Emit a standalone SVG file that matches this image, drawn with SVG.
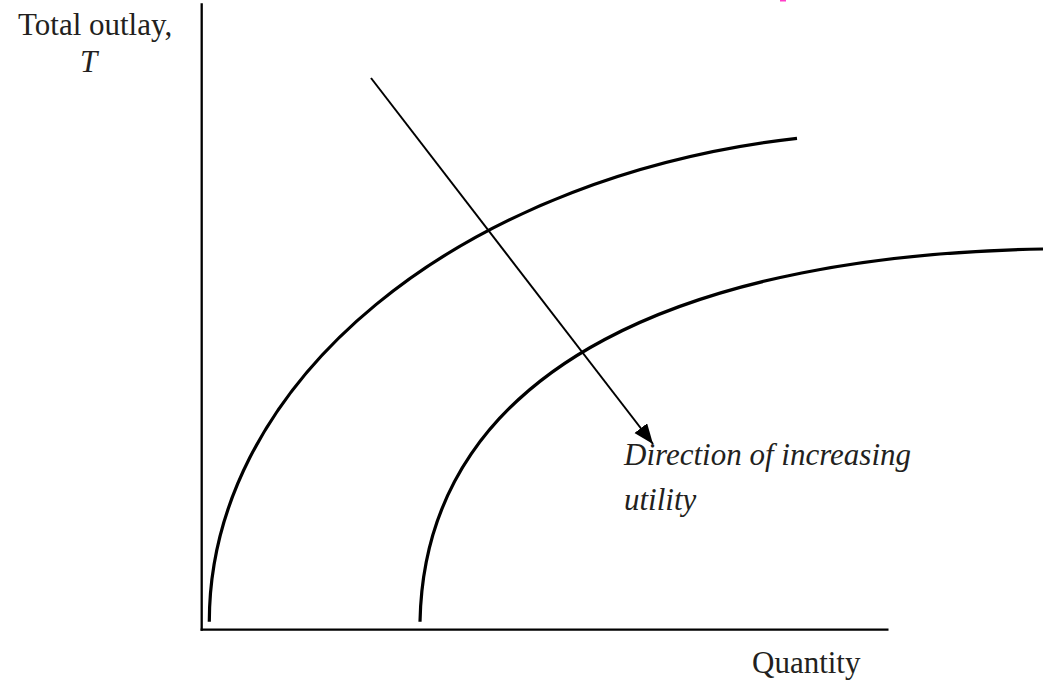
<svg xmlns="http://www.w3.org/2000/svg" width="1047" height="686" viewBox="0 0 1047 686">
  <style>
    .axis { stroke: #000; stroke-width: 2.3; fill: none; }
    .curve { stroke: #000; stroke-width: 3.2; fill: none; }
    .arrow { stroke: #000; stroke-width: 2; fill: none; }
    .lbl { font-family: "Liberation Serif", "Times New Roman", serif; font-size: 31px; fill: #231f20; }
    .it { font-style: italic; }
  </style>
  <defs>
    <marker id="ah" markerUnits="userSpaceOnUse" markerWidth="24" markerHeight="20" refX="20" refY="8" orient="auto">
      <path d="M0,0 L20,8 L0,16 Z" fill="#000"/>
    </marker>
  </defs>
  <rect width="1047" height="686" fill="#fff"/>
  <rect x="780" y="0" width="6" height="1.5" fill="#ff3ec8"/>
  <g id="axes">
    <line class="axis" x1="201.7" y1="3.3" x2="201.7" y2="630.7"/>
    <line class="axis" x1="200.6" y1="629.6" x2="888.5" y2="629.6"/>
  </g>
  <g id="curve1">
    <path class="curve" d="M209.3,621.7 A700,490 0 0 1 797,138.3"/>
  </g>
  <g id="curve2">
    <path class="curve" d="M420,621.7 C425,360 700,255 1043,249"/>
  </g>
  <g id="connectors">
    <line class="arrow" x1="371" y1="78" x2="653" y2="444" marker-end="url(#ah)"/>
  </g>
  <g id="label-y">
    <text class="lbl" x="18" y="35">Total outlay,</text>
    <text class="lbl it" x="80" y="72">T</text>
  </g>
  <g id="label-x">
    <text class="lbl" x="752" y="673">Quantity</text>
  </g>
  <g id="label-direction">
    <text class="lbl it" x="624" y="465">Direction of increasing</text>
    <text class="lbl it" x="624" y="510">utility</text>
  </g>
</svg>
